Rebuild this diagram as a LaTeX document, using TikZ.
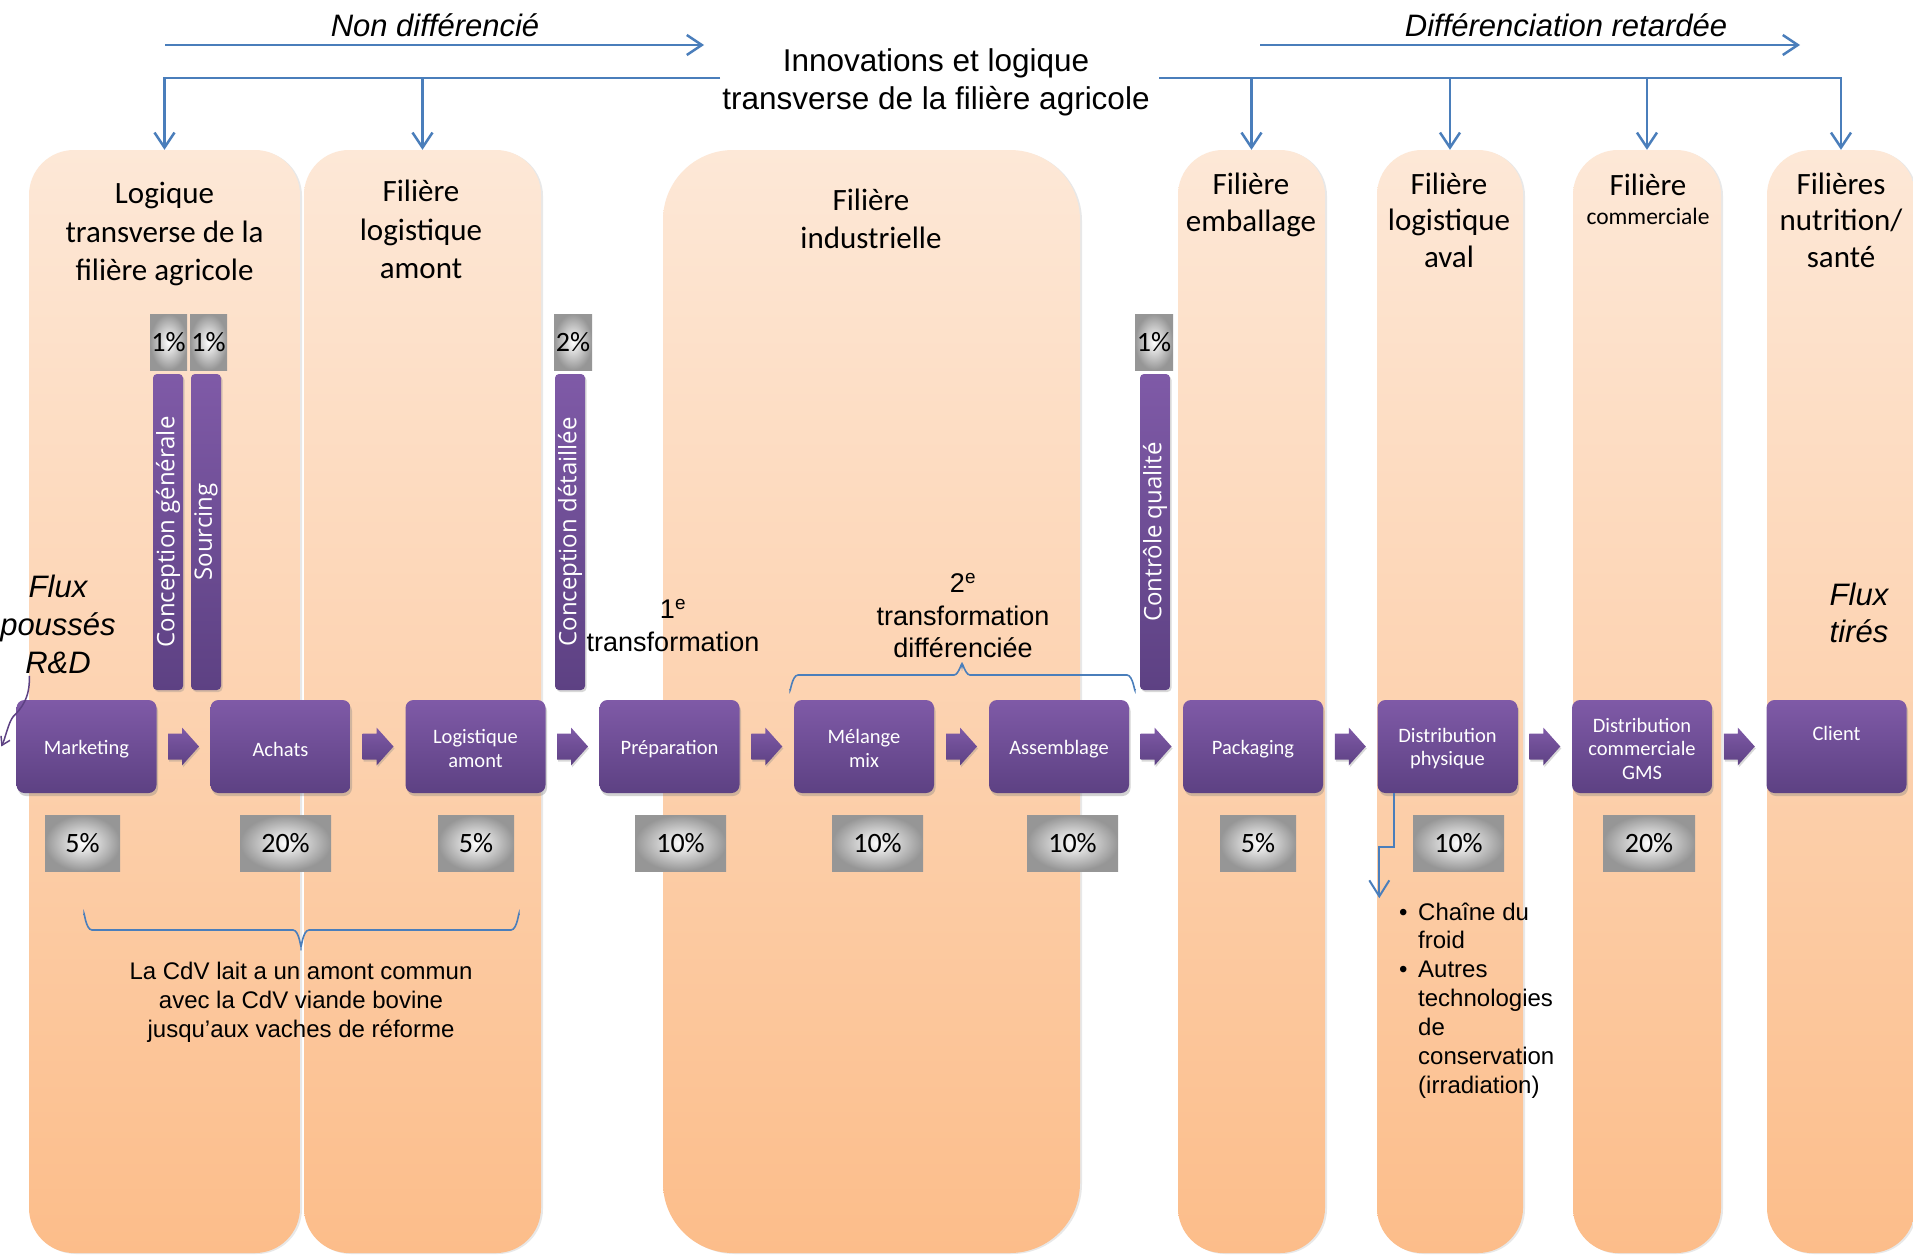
\documentclass[tikz,border=0pt]{standalone}
\usepackage{fontspec}
\setmainfont{Carlito}
\newfontfamily\arialf{Liberation Sans}
\newfontfamily\barf{Open Sans}
\usetikzlibrary{arrows.meta,shadows,calc}

\definecolor{blu}{RGB}{74,126,187}
\definecolor{plTop}{RGB}{127,90,167}
\definecolor{plBot}{RGB}{93,65,131}
\definecolor{peachTop}{RGB}{253,232,215}
\definecolor{peachBot}{RGB}{252,189,138}
\definecolor{pctEdge}{RGB}{150,150,150}

\tikzset{
  column/.style={rectangle, rounded corners=45pt, top color=peachTop, bottom color=peachBot,
    draw=none, inner sep=0pt, minimum height=1103pt,
    drop shadow={shadow xshift=2pt, shadow yshift=-1pt, opacity=0.18}},
  process/.style={rectangle, rounded corners=8pt, top color=plTop, bottom color=plBot,
    minimum width=140pt, minimum height=93pt, inner sep=0pt, text=white, align=center,
    font=\fontsize{20.5}{23.5}\selectfont,
    drop shadow={shadow xshift=1.5pt, shadow yshift=-3pt, opacity=0.35}},
  ptext/.style={align=center, inner sep=0pt, text=white, font=\fontsize{20.5}{23.5}\selectfont},
  arrowshape/.style={top color=plTop, bottom color=plBot,
    drop shadow={shadow xshift=1pt, shadow yshift=-2pt, opacity=0.3}},
  bar/.style={rectangle, rotate=90, rounded corners=4pt, top color=plTop, bottom color=plBot,
    minimum height=30pt, minimum width=316pt, inner sep=0pt, text=white,
    font=\barf\fontsize{24}{26}\selectfont,
    drop shadow={shadow xshift=1.5pt, shadow yshift=-2pt, opacity=0.3}},
  pct/.style={rectangle, inner color=white, outer color=pctEdge, minimum height=56pt,
    inner sep=0pt, font=\fontsize{28}{30}\selectfont},
  hd/.style={align=center, inner sep=0pt, font=\fontsize{31}{38.5}\selectfont},
  hdn/.style={align=center, inner sep=0pt, font=\fontsize{31}{36.5}\selectfont},
  arialtxt/.style={align=center, inner sep=0pt},
  bluarrow/.style={draw=blu, line width=2.5pt, -{Straight Barb[length=15pt,width=20pt]}},
  bracebl/.style={draw=blu, line width=1.6pt},
  rdline/.style={draw=plBot, line width=1.5pt, -{Straight Barb[length=8pt,width=10pt]}},
}

% fat arrow drawn midway between two process boxes
\newcommand\blockarrow[2]{%
  \path[arrowshape] ($(#1.east)!0.5!(#2.west)$) ++(-15.5,-13) -- ++(14,0) -- ++(0,-6)
    -- ++(17,19) -- ++(-17,19) -- ++(0,-6) -- ++(-14,0) -- cycle;}

\begin{document}
\begin{tikzpicture}[x=1pt,y=-1pt]
\useasboundingbox (0,0) rectangle (1913,1255);
\clip (0,0) rectangle (1913,1255);
\fill[white] (0,0) rectangle (1913,1255);

% ---- the seven sectors ----
\node[column, minimum width=271pt] (col1) at (164.5,701.5) {};
\node[column, minimum width=237pt] (col2) at (422.5,701.5) {};
\node[column, minimum width=417pt, rounded corners=70pt] (col3) at (871.5,701.5) {};
\node[column, minimum width=147pt] (col4) at (1251.5,701.5) {};
\node[column, minimum width=146pt] (col5) at (1450,701.5) {};
\node[column, minimum width=148pt] (col6) at (1647,701.5) {};
\node[column, minimum width=148pt] (col7) at (1841,701.5) {};

% sector headings
\node[hd] (h1) at (164.5,234) {Logique\\transverse de la\\filière agricole};
\node[hd] (h2) at (421,229.5) {Filière\\logistique\\amont};
\node[hd] (h3) at (871,219) {Filière\\industrielle};
\node[hdn] (h4) at (1251,205) {Filière\\emballage};
\node[hdn] (h5) at (1449,220) {Filière\\logistique\\aval};
\node[hdn] (h6a) at (1648,185) {Filière};
\node[inner sep=0pt, font=\fontsize{23.5}{26}\selectfont] (h6b) at (1648,216) {commerciale};
\node[hdn] (h7) at (1841,220) {Filières\\nutrition/\\santé};

% ---- top banner ----
\node[arialtxt, font=\arialf\fontsize{31.5}{38}\selectfont] (innov) at (936,82.5) {Innovations et logique\\transverse de la filière agricole};
\node[arialtxt, font=\arialf\itshape\fontsize{31}{36}\selectfont] (nd) at (435,25.5) {Non différencié};
\node[arialtxt, font=\arialf\itshape\fontsize{31}{36}\selectfont] (dr) at (1566,25.5) {Différenciation retardée};

\coordinate (ndA) at (165,45);
\coordinate (ndB) at (704,45);
\coordinate (drA) at (1260,45);
\coordinate (drB) at (1800,45);
\draw[bluarrow] (ndA) -- (ndB);
\draw[bluarrow] (drA) -- (drB);

\coordinate (lj) at (720,78);
\coordinate (rj) at (1159,78);
\draw[bluarrow] (lj) -| (col1.north);
\draw[bluarrow] (col2.north |- lj) -- (col2.north);
\draw[bluarrow] (rj) -| (col7.north);
\foreach \c in {col4,col5,col6} \draw[bluarrow] (\c.north |- rj) -- (\c.north);

% ---- transverse activities ----
\node[pct, minimum width=37pt] (q1) at (168.5,342) {1\%};
\node[pct, minimum width=37pt] (q2) at (208.5,342) {1\%};
\node[pct, minimum width=38pt] (q3) at (573,342) {2\%};
\node[pct, minimum width=38pt] (q4) at (1154,342) {1\%};

\node[bar] (cg) at (168,532) {Conception générale};
\node[bar] (src) at (206,532) {Sourcing};
\node[bar] (cd) at (570,532) {Conception détaillée};
\node[bar] (cq) at (1155,532) {Contrôle qualité};

% ---- process chain ----
\node[process] (mkt) at (86.5,746.5) {};
\node[process] (ach) at (280.5,746.5) {};
\node[process] (loga) at (475.5,746.5) {};
\node[process] (prep) at (669.5,746.5) {};
\node[process] (mel) at (864,746.5) {};
\node[process] (ass) at (1059,746.5) {};
\node[process] (pack) at (1253,746.5) {};
\node[process] (dp) at (1447.5,746.5) {};
\node[process] (dc) at (1642,746.5) {};
\node[process] (cli) at (1836.5,746.5) {};

\node[ptext] (mktT) at ([yshift=-2.5pt]mkt.center) {Marketing};
\node[ptext] (achT) at ([yshift=-2.5pt]ach.center) {Achats};
\node[ptext] (logaT) at ([yshift=-2pt]loga.center) {Logistique\\amont};
\node[ptext] (prepT) at ([yshift=-2.5pt]prep.center) {Préparation};
\node[ptext] (melT) at ([yshift=-2pt]mel.center) {Mélange\\mix};
\node[ptext] (assT) at ([yshift=-2.5pt]ass.center) {Assemblage};
\node[ptext] (packT) at ([yshift=-2.5pt]pack.center) {Packaging};
\node[ptext] (dpT) at ([yshift=-2pt]dp.center) {Distribution\\physique};
\node[ptext] (dcT) at ([yshift=-2pt]dc.center) {Distribution\\commerciale\\GMS};
\node[ptext] (cliT) at ([yshift=-2pt]cli.center) {Client\\\strut};

\foreach \a/\b in {mkt/ach, ach/loga, loga/prep, prep/mel, mel/ass, ass/pack, pack/dp, dp/dc, dc/cli}
  {\blockarrow{\a}{\b}}

% cost shares
\node[pct, minimum width=75pt] (p1) at (82.5,843) {5\%};
\node[pct, minimum width=91pt] (p2) at (285.5,843) {20\%};
\node[pct, minimum width=76pt] (p3) at (476,843) {5\%};
\node[pct, minimum width=91pt] (p4) at (680.5,843) {10\%};
\node[pct, minimum width=91pt] (p5) at (877.5,843) {10\%};
\node[pct, minimum width=91pt] (p6) at (1072.5,843) {10\%};
\node[pct, minimum width=76pt] (p7) at (1258,843) {5\%};
\node[pct, minimum width=91pt] (p8) at (1458.5,843) {10\%};
\node[pct, minimum width=92pt] (p9) at (1649,843) {20\%};

% ---- annotations ----
\node[arialtxt, font=\arialf\itshape\fontsize{31}{38}\selectfont] (fluxp) at (58,624) {Flux\\poussés\\R\&D};
\node[arialtxt, font=\arialf\itshape\fontsize{31}{37}\selectfont] (fluxt) at (1859,613) {Flux\\tirés};
\draw[rdline] ($(mkt.north west)+(13,-24)$) .. controls +(1,22) and +(8,-8) .. ($(mkt.west)+(-3,-30)$)
  .. controls +(-5,6) and +(4,-8) .. ($(mkt.west)+(-15,0)$);

\node[arialtxt, font=\arialf\fontsize{27}{33}\selectfont] (t1) at (673,626) {1\textsuperscript{e}\\transformation};
\node[arialtxt, font=\arialf\fontsize{27}{32.5}\selectfont] (t2) at (963,616) {2\textsuperscript{e}\\transformation\\différenciée};

% brace over the second transformation
\draw[bracebl] (790,689) to[out=-90,in=180] (798,675) -- (954,675) to[out=0,in=90] (962,665)
  to[out=90,in=180] (970,675) -- (1127,675) to[out=0,in=-90] (1135,689);

% brace under the upstream stages
\draw[bracebl] (84,915) to[out=90,in=180] (92,930) -- (293,930) to[out=0,in=-90] (301,945)
  to[out=-90,in=180] (309,930) -- (511,930) to[out=0,in=90] (519,915);
\node[arialtxt, font=\arialf\fontsize{24}{29}\selectfont] (cdv) at (301,1002) {La CdV lait a un amont commun\\avec la CdV viande bovine\\jusqu’aux vaches de réforme};

% storage technologies
\node[anchor=west, align=left, inner sep=0pt, font=\arialf\fontsize{24}{28.9}\selectfont] (bul) at (1399,1000.5)
  {\makebox[19pt][l]{\textbullet}Chaîne du\\
   \hspace*{19pt}froid\\
   \makebox[19pt][l]{\textbullet}Autres\\
   \hspace*{19pt}technologies\\
   \hspace*{19pt}de\\
   \hspace*{19pt}conservation\\
   \hspace*{19pt}(irradiation)};
\draw[draw=blu, line width=2pt, -{Straight Barb[length=16pt,width=20pt]}]
  ($(dp.south west)+(17,0)$) -- ++(0,54) -- ++(-15,0) -- ++(0,51);
\end{tikzpicture}
\end{document}
